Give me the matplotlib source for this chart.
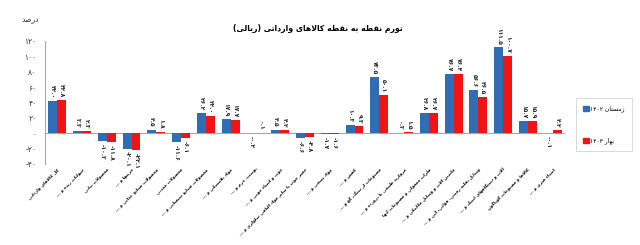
"""Point-to-point inflation of imported goods (rial), winter 1402 vs spring 1403."""

import re
import numpy as np
import matplotlib
matplotlib.use('Agg')
import matplotlib.pyplot as plt
from matplotlib.patches import Patch

categories = [
    'کل کالاهای وارداتی',
    'حیوانات زنده و ...',
    'محصولات نباتی',
    'چربیها و ...',
    'محصولات صنایع غذایی و ...',
    'محصولات معدنی',
    'محصولات صنایع شیمیایی و ...',
    'مواد پلاستیکی و ...',
    'پوست، چرم و ...',
    'چوب و اشیاء چوبی و ...',
    'خمیر چوب یا سایر مواد الیافی سلولزی و ...',
    'مواد نسجی و ...',
    'کفش و ...',
    'مصنوعات از سنگ، گچ و ...',
    'مروارید طبیعی یا پرورده و ...',
    'فلزات معمولی و مصنوعات آنها',
    'ماشین آلات و وسایل مکانیکی و ...',
    'وسایل نقلیه زمینی، هوایی، آبی و ...',
    'آلات و دستگاههای اپتیک و ...',
    'کالاها و مصنوعات گوناگون',
    'اشیاء هنری و ...',
]
winter_1402 = [42.0, 3.3, -10.3, -20.1, 4.5, -11.6, 26.2, 17.9, -0.2, 4.5, -6.6,
               -1.7, 10.3, 73.5, 0.3, 26.8, 76.7, 56.6, 111.5, 15.7, -0.1]
spring_1403 = [42.8, 2.3, -11.8, -22.1, 1.8, -6.1, 22.0, 17.7, 0.1, 4.2, -4.8,
               -1.6, 9.3, 50.1, 1.5, 26.7, 76.4, 46.5, 100.7, 15.9, 4.2]
y_ticks = [-40, -20, 0, 20, 40, 60, 80, 100, 120]
series_names = ['زمستان ۱۴۰۲', 'بهار ۱۴۰۳']
title = 'تورم نقطه به نقطه کالاهای وارداتی (ریالی)'
unit = 'درصد'

BLUE = '#2f6eb5'
RED = '#f01414'

# --- minimal Persian shaping (no arabic_reshaper available) ---
FORMS = {
    'ا': (0xFE8D, 0xFE8E), 'آ': (0xFE81, 0xFE82), 'د': (0xFEA9, 0xFEAA),
    'ذ': (0xFEAB, 0xFEAC), 'ر': (0xFEAD, 0xFEAE), 'ز': (0xFEAF, 0xFEB0),
    'ژ': (0xFB8A, 0xFB8B), 'و': (0xFEED, 0xFEEE),
    'ب': (0xFE8F, 0xFE90, 0xFE91, 0xFE92), 'پ': (0xFB56, 0xFB57, 0xFB58, 0xFB59),
    'ت': (0xFE95, 0xFE96, 0xFE97, 0xFE98), 'ث': (0xFE99, 0xFE9A, 0xFE9B, 0xFE9C),
    'ج': (0xFE9D, 0xFE9E, 0xFE9F, 0xFEA0), 'چ': (0xFB7A, 0xFB7B, 0xFB7C, 0xFB7D),
    'ح': (0xFEA1, 0xFEA2, 0xFEA3, 0xFEA4), 'خ': (0xFEA5, 0xFEA6, 0xFEA7, 0xFEA8),
    'س': (0xFEB1, 0xFEB2, 0xFEB3, 0xFEB4), 'ش': (0xFEB5, 0xFEB6, 0xFEB7, 0xFEB8),
    'ص': (0xFEB9, 0xFEBA, 0xFEBB, 0xFEBC), 'ض': (0xFEBD, 0xFEBE, 0xFEBF, 0xFEC0),
    'ط': (0xFEC1, 0xFEC2, 0xFEC3, 0xFEC4), 'ظ': (0xFEC5, 0xFEC6, 0xFEC7, 0xFEC8),
    'ع': (0xFEC9, 0xFECA, 0xFECB, 0xFECC), 'غ': (0xFECD, 0xFECE, 0xFECF, 0xFED0),
    'ف': (0xFED1, 0xFED2, 0xFED3, 0xFED4), 'ق': (0xFED5, 0xFED6, 0xFED7, 0xFED8),
    'ک': (0xFB8E, 0xFB8F, 0xFB90, 0xFB91), 'گ': (0xFB92, 0xFB93, 0xFB94, 0xFB95),
    'ل': (0xFEDD, 0xFEDE, 0xFEDF, 0xFEE0), 'م': (0xFEE1, 0xFEE2, 0xFEE3, 0xFEE4),
    'ن': (0xFEE5, 0xFEE6, 0xFEE7, 0xFEE8), 'ه': (0xFEE9, 0xFEEA, 0xFEEB, 0xFEEC),
    'ی': (0xFBFC, 0xFBFD, 0xFBFE, 0xFBFF), 'ئ': (0xFE89, 0xFE8A, 0xFE8B, 0xFE8C),
}
LAM_ALEF = {'ا': (0xFEFB, 0xFEFC), 'آ': (0xFEF5, 0xFEF6)}
MIRROR = {'(': ')', ')': '('}


def is_dual(c):
    return c in FORMS and len(FORMS[c]) == 4


def shape(text):
    out = []
    i, n = 0, len(text)
    while i < n:
        c = text[i]
        prev_joins = i > 0 and is_dual(text[i - 1]) and c in FORMS
        if c == 'ل' and i + 1 < n and text[i + 1] in LAM_ALEF:
            out.append(chr(LAM_ALEF[text[i + 1]][1 if prev_joins else 0]))
            i += 2
            continue
        if c in FORMS:
            next_joins = i + 1 < n and is_dual(c) and text[i + 1] in FORMS
            f = FORMS[c]
            if prev_joins and next_joins:
                out.append(chr(f[3]))
            elif prev_joins:
                out.append(chr(f[1]))
            elif next_joins:
                out.append(chr(f[2]))
            else:
                out.append(chr(f[0]))
        else:
            out.append(c)
        i += 1
    return ''.join(out)


def fa(text):
    tokens = re.findall(r'[۰-۹0-9.]+|.', shape(text))
    return ''.join(MIRROR.get(t, t) for t in reversed(tokens))


def fa_num(v, fmt='{:.1f}'):
    s = fmt.format(abs(v)).translate(str.maketrans('0123456789', '۰۱۲۳۴۵۶۷۸۹'))
    return ('-' + s) if v < 0 else s


def main():
    plt.rcParams['font.family'] = ['DejaVu Sans']

    fig = plt.figure(figsize=(6.4, 2.45), dpi=100)
    ax = fig.add_axes([0.07, 0.331, 0.813, 0.502])

    x = np.arange(len(categories))
    w = 0.36
    ax.bar(x - w / 2, winter_1402, w, color=BLUE, zorder=2)
    ax.bar(x + w / 2, spring_1403, w, color=RED, zorder=2)

    # vertical value labels
    for xs, vals in ((x - w / 2, winter_1402), (x + w / 2, spring_1403)):
        for xi, v in zip(xs, vals):
            off = 2 if v >= 0 else -2
            ax.annotate(fa_num(v), (xi, v), xytext=(0, off), textcoords='offset points',
                        rotation=270, ha='center', va='bottom' if v >= 0 else 'top',
                        fontsize=4.3, fontweight='bold', color='#222222')

    ax.set_xlim(-0.5, len(categories) - 0.5)
    ax.set_ylim(-40, 120)
    ax.set_yticks(y_ticks)
    ax.set_yticklabels([fa_num(t, '{:.0f}') for t in y_ticks], fontsize=5.5, color='#333333')
    ax.set_xticks(x)
    ax.set_xticklabels([fa(c) for c in categories], rotation=45, ha='right',
                       rotation_mode='anchor', fontsize=3.2, fontweight='bold')
    ax.tick_params(axis='x', length=0, pad=2.5)
    ax.tick_params(axis='y', length=0, pad=6)

    for side in ('top', 'right', 'bottom'):
        ax.spines[side].set_visible(False)
    ax.spines['left'].set_color('#a6a6a6')
    ax.axhline(0, color='#a6a6a6', linewidth=0.8, zorder=1)

    fig.text(0.497, 0.885, fa(title), ha='center', va='center', fontsize=5.6, fontweight='bold')
    fig.text(0.047, 0.918, fa(unit), ha='center', va='center', fontsize=5.5, color='#333333')

    handles = [Patch(color=BLUE), Patch(color=RED)]
    leg = fig.legend(handles, [fa(s) for s in series_names], loc='center left',
                     bbox_to_anchor=(0.9, 0.49), frameon=True, fancybox=False,
                     fontsize=4.3, labelspacing=4.2, handlelength=0.9, handleheight=0.9,
                     handletextpad=0.3, borderpad=1.2, borderaxespad=0)
    leg.get_frame().set_edgecolor('#c8c8c8')
    leg.get_frame().set_linewidth(0.6)

    plt.savefig('out.png', dpi=100)
    plt.close()


if __name__ == '__main__':
    main()
